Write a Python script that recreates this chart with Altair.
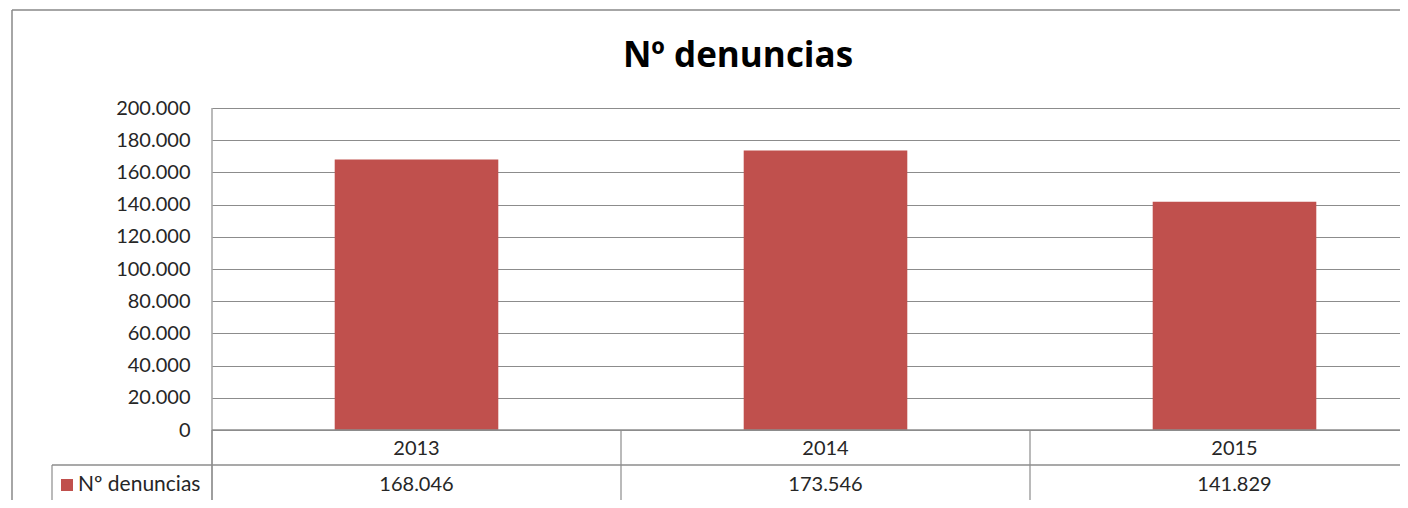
import altair as alt
import pandas as pd

years = ["2013", "2014", "2015"]
values = [168046, 173546, 141829]
series_name = "Nº denuncias"
y_ticks = [0, 20000, 40000, 60000, 80000, 100000, 120000, 140000, 160000, 180000, 200000]

FONT = "Lato"
BAR = "#C0504D"
LINE = "#8C8C8C"
TXT = "#262626"

W, H = 1188, 322
BAND = 409.0

df = pd.DataFrame({"year": years, "value": values, "i": list(range(len(years)))})
base = alt.Chart(df).transform_calculate(
    x0="datum.i + 0.3", x1="datum.i + 0.7", xc="datum.i + 0.5",
    lbl="replace(format(datum.value, ','), /,/g, '.')",
)
xs = alt.Scale(domain=[0, W / BAND], nice=False, zero=False)

bars = base.mark_rect(color=BAR).encode(
    x=alt.X("x0:Q", scale=xs, axis=None),
    x2="x1:Q",
    y=alt.Y("value:Q", scale=alt.Scale(domain=[0, 200000], nice=False),
            axis=alt.Axis(values=y_ticks, title=None, ticks=False, domain=False,
                          labelExpr="replace(format(datum.value, ','), /,/g, '.')",
                          labelFont=FONT, labelFontSize=20, labelColor=TXT, labelPadding=22,
                          grid=True, gridColor=LINE, gridWidth=1.2)),
    y2=alt.Y2(datum=0),
)

year_txt = base.mark_text(font=FONT, fontSize=20, color=TXT, baseline="middle").encode(
    x=alt.X("xc:Q", scale=xs, axis=None), y=alt.value(341), text="year:N")
val_txt = base.mark_text(font=FONT, fontSize=20, color=TXT, baseline="middle").encode(
    x=alt.X("xc:Q", scale=xs, axis=None), y=alt.value(377), text="lbl:N")

vlines = base.mark_rule(color=LINE, strokeWidth=1.2).encode(
    x=alt.X("i:Q", scale=xs, axis=None), y=alt.value(322), y2=alt.value(395))

one = pd.DataFrame({"s": [series_name]})


def hrule(x1, x2, y, color=LINE, sw=1.5):
    return alt.Chart(one).mark_rule(color=color, strokeWidth=sw).encode(
        x=alt.value(x1), x2=alt.value(x2), y=alt.value(y), y2=alt.value(y))


def vrule(x, y1, y2, color=LINE, sw=1.2):
    return alt.Chart(one).mark_rule(color=color, strokeWidth=sw).encode(
        x=alt.value(x), x2=alt.value(x), y=alt.value(y1), y2=alt.value(y2))


deco = [
    vrule(0, 0, 395),              # plot left border through the table
    hrule(0, W, 322),              # table top
    hrule(-160, W, 357),           # between rows
    hrule(-160, W, 394.5),         # table bottom
    vrule(-160, 357, 395),         # legend cell left
    vrule(-200, -98, 400, "#888888", 1.5),   # outer frame left
    hrule(-200, W, -98, "#888888", 1.5),     # outer frame top
]

legend_sq = alt.Chart(one).mark_square(
    color=BAR, size=144, opacity=1).encode(x=alt.value(-145), y=alt.value(377))
legend_txt = alt.Chart(one).mark_text(
    font=FONT, fontSize=21, color=TXT, align="left", baseline="middle").encode(
    x=alt.value(-134), y=alt.value(377), text="s:N")

title = alt.Chart(one).mark_text(
    font="Open Sans", fontSize=35, fontWeight="bold", color="#000000", align="center",
    baseline="middle").encode(x=alt.value(526), y=alt.value(-52), text="s:N")

chart = alt.layer(bars, vlines, *deco, year_txt, val_txt, legend_sq, legend_txt, title).properties(
    width=W, height=H,
    autosize=alt.AutoSizeParams(type="none"),
    padding={"left": 204, "top": 100, "right": 0, "bottom": 70},
    background="white",
).configure_view(strokeWidth=0)

chart.save("out.html", embed_options={"renderer": "svg", "actions": False})
